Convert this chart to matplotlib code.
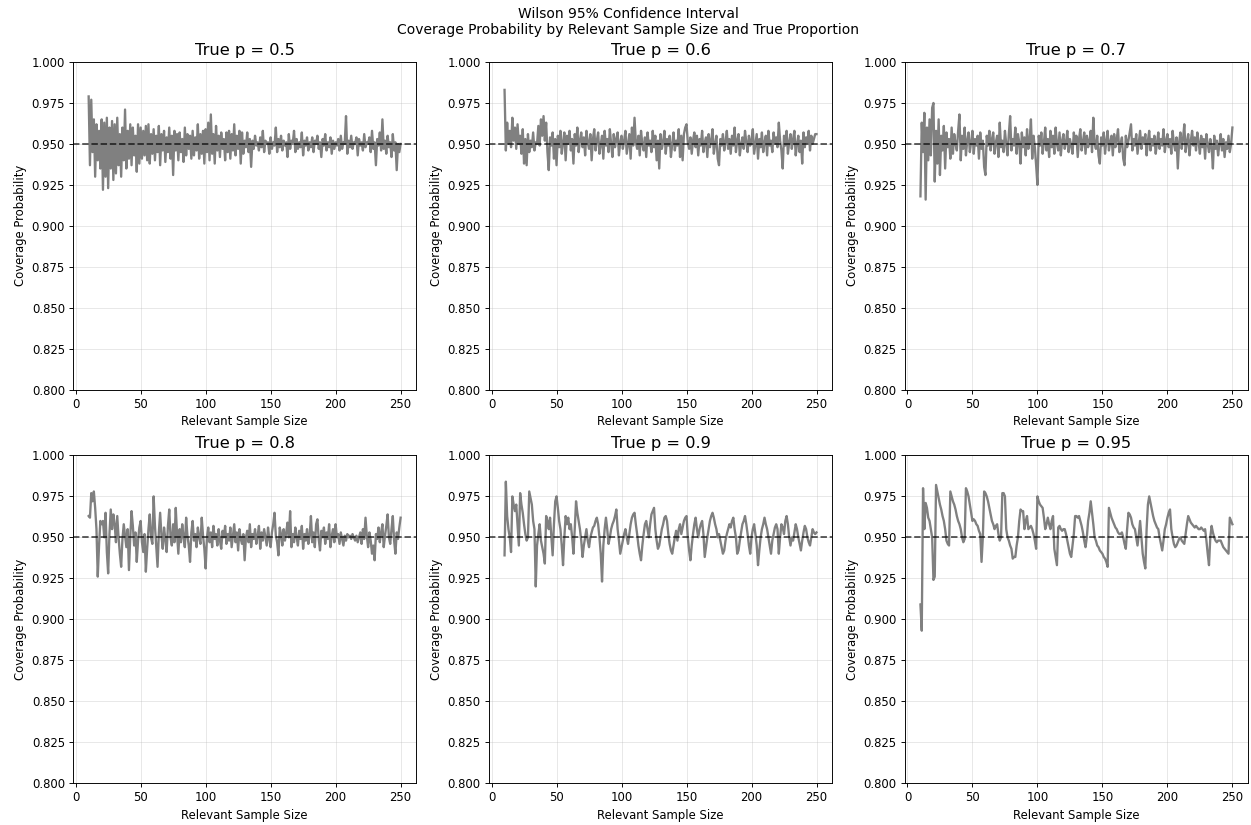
'''
Wilson 95% confidence interval coverage by sample size
'''

from matplotlib import pyplot as plt
import numpy as np

# sample sizes 10..250
sample_sizes = list(range(10, 251))
true_props = [0.5, 0.6, 0.7, 0.8, 0.9, 0.95]
nominal = 0.95

# coverage values, in thousandths (n = 10, 11, ...)
cov_p50 = [
    979, 937, 977, 945, 965, 930, 962, 940, 958, 935,
    965, 922, 963, 930, 966, 923, 960, 935, 964, 928,
    962, 932, 966, 937, 956, 930, 960, 940, 971, 935,
    958, 941, 962, 937, 960, 943, 955, 933, 962, 938,
    960, 941, 958, 943, 961, 940, 962, 938, 956, 944,
    959, 940, 955, 945, 961, 937, 956, 946, 958, 939,
    954, 945, 960, 941, 955, 931, 958, 946, 956, 940,
    957, 945, 953, 939, 960, 943, 956, 947, 955, 941,
    958, 943, 954, 946, 962, 941, 956, 944, 958, 938,
    959, 945, 963, 940, 968, 944, 956, 938, 961, 946,
    955, 942, 957, 947, 953, 940, 957, 945, 958, 941,
    956, 946, 962, 943, 955, 947, 958, 938, 957, 944,
    952, 948, 957, 945, 953, 936, 952, 947, 955, 949,
    951, 946, 954, 948, 958, 945, 952, 950, 951, 944,
    954, 947, 951, 949, 960, 945, 953, 948, 955, 946,
    952, 949, 951, 942, 956, 947, 952, 950, 958, 945,
    953, 947, 951, 948, 957, 943, 952, 949, 954, 946,
    951, 948, 954, 945, 952, 950, 955, 947, 951, 942,
    953, 949, 956, 946, 951, 948, 954, 944, 952, 947,
    951, 949, 953, 946, 955, 947, 951, 950, 967, 944,
    952, 948, 955, 947, 951, 950, 954, 943, 953, 949,
    951, 946, 956, 948, 951, 950, 954, 945, 958, 947,
    951, 937, 953, 949, 957, 946, 965, 947, 952, 944,
    955, 948, 951, 942, 956, 946, 951, 934, 950, 945,
    950]

cov_p60 = [
    983, 946, 963, 950, 958, 948, 966, 952, 960, 947,
    962, 950, 955, 944, 959, 938, 953, 937, 956, 945,
    952, 948, 957, 946, 951, 950, 961, 949, 965, 955,
    967, 952, 963, 945, 934, 954, 949, 957, 941, 953,
    937, 955, 948, 958, 944, 951, 957, 940, 955, 950,
    958, 946, 953, 938, 956, 949, 960, 945, 952, 957,
    948, 954, 943, 958, 951, 947, 956, 940, 953, 959,
    946, 952, 957, 944, 950, 955, 941, 958, 949, 953,
    945, 959, 950, 942, 956, 948, 953, 957, 943, 951,
    955, 947, 952, 958, 944, 950, 956, 941, 960, 949,
    966, 951, 947, 955, 943, 958, 950, 946, 954, 942,
    957, 949, 952, 945, 958, 948, 955, 940, 952, 935,
    956, 947, 951, 958, 944, 953, 949, 955, 942, 950,
    957, 946, 952, 949, 959, 942, 955, 940, 956, 960,
    962, 951, 947, 954, 944, 952, 957, 948, 955, 943,
    953, 949, 958, 945, 951, 954, 942, 956, 948, 952,
    959, 944, 950, 955, 941, 937, 953, 949, 956, 946,
    951, 958, 947, 953, 944, 955, 949, 960, 945, 952,
    956, 943, 950, 954, 947, 958, 951, 945, 955, 949,
    952, 959, 944, 950, 956, 941, 953, 948, 957, 945,
    951, 955, 943, 958, 949, 952, 945, 957, 950, 954,
    948, 963, 952, 946, 935, 955, 949, 958, 944, 951,
    956, 947, 953, 958, 943, 950, 955, 945, 952, 938,
    957, 948, 954, 951, 958, 946, 955, 950, 953, 956,
    956]

cov_p70 = [
    918, 963, 945, 969, 916, 960, 940, 965, 943, 972,
    975, 927, 958, 938, 965, 931, 955, 946, 961, 935,
    957, 948, 953, 941, 960, 944, 956, 950, 946, 958,
    968, 940, 955, 947, 960, 943, 952, 957, 945, 951,
    958, 944, 953, 949, 955, 941, 957, 947, 952, 936,
    931, 955, 949, 958, 946, 953, 957, 944, 951, 955,
    942, 963, 948, 952, 945, 958, 950, 943, 956, 967,
    946, 953, 949, 960, 944, 956, 951, 938, 957, 948,
    954, 943, 959, 947, 952, 965, 941, 955, 948, 937,
    925, 955, 949, 957, 944, 951, 960, 946, 953, 942,
    958, 948, 955, 944, 960, 950, 946, 957, 943, 952,
    956, 947, 951, 958, 945, 953, 949, 944, 957, 950,
    955, 942, 953, 959, 946, 951, 957, 944, 955, 948,
    952, 958, 945, 966, 950, 947, 955, 943, 938, 954,
    949, 957, 944, 952, 958, 946, 951, 955, 943, 956,
    948, 953, 959, 945, 950, 954, 941, 937, 955, 948,
    952, 957, 962, 946, 953, 949, 956, 944, 951, 958,
    947, 954, 950, 956, 943, 952, 958, 946, 953, 949,
    955, 944, 951, 957, 947, 953, 949, 959, 945, 952,
    956, 948, 953, 944, 958, 950, 946, 954, 935, 951,
    957, 947, 953, 962, 945, 951, 956, 943, 952, 958,
    949, 954, 946, 957, 951, 944, 955, 948, 953, 941,
    956, 950, 945, 953, 948, 935, 955, 947, 952, 943,
    950, 956, 946, 953, 942, 951, 947, 955, 945, 950,
    960]

cov_p80 = [
    963, 962, 977, 972, 978, 968, 955, 926, 945, 960,
    958, 960, 950, 965, 941, 928, 952, 967, 955, 964,
    958, 947, 963, 950, 940, 932, 949, 958, 951, 944,
    955, 930, 950, 966, 957, 945, 953, 935, 948, 956,
    960, 947, 941, 952, 929, 943, 955, 964, 950, 946,
    975, 957, 944, 932, 953, 965, 951, 943, 956, 949,
    941, 957, 967, 950, 945, 958, 947, 968, 952, 940,
    955, 947, 958, 950, 944, 962, 951, 945, 935, 953,
    960, 948, 952, 944, 956, 950, 946, 962, 951, 943,
    931, 950, 956, 947, 953, 944, 957, 949, 952, 945,
    955, 948, 943, 954, 950, 957, 946, 952, 948, 956,
    944, 951, 958, 947, 953, 942, 955, 949, 946, 952,
    936, 950, 954, 947, 958, 944, 952, 949, 955, 946,
    951, 957, 943, 953, 948, 955, 950, 945, 956, 949,
    944, 953, 958, 965, 951, 947, 939, 956, 952, 945,
    955, 948, 953, 959, 950, 966, 944, 952, 947, 956,
    950, 945, 954, 949, 957, 943, 952, 948, 955, 946,
    951, 963, 947, 953, 944, 958, 961, 949, 942, 954,
    950, 956, 946, 953, 949, 958, 944, 951, 955, 947,
    958, 950, 952, 946, 953, 949, 945, 951, 948, 952,
    950, 951, 949, 952, 950, 948, 951, 947, 950, 953,
    946, 955, 949, 962, 951, 944, 953, 948, 940, 945,
    936, 952, 949, 956, 947, 953, 958, 944, 951, 957,
    964, 950, 946, 955, 963, 948, 940, 953, 949, 956,
    962]

cov_p90 = [
    939, 984, 963, 955, 950, 941, 975, 970, 966, 970,
    958, 945, 977, 970, 965, 958, 952, 948, 950, 978,
    974, 970, 960, 955, 920, 945, 952, 958, 948, 944,
    940, 934, 963, 960, 955, 962, 950, 939, 958, 972,
    975, 968, 960, 955, 945, 933, 950, 963, 958, 962,
    955, 958, 950, 940, 955, 972, 965, 960, 955, 948,
    938, 945, 950, 955, 948, 944, 950, 953, 956, 957,
    960, 962, 958, 950, 940, 923, 945, 955, 962, 955,
    946, 950, 955, 958, 960, 963, 967, 955, 948, 940,
    944, 948, 952, 955, 950, 946, 952, 958, 962, 964,
    965, 958, 952, 945, 940, 936, 945, 952, 958, 960,
    955, 950, 958, 964, 966, 968, 955, 948, 943, 945,
    950, 955, 958, 962, 963, 960, 952, 946, 942, 940,
    945, 950, 954, 948, 955, 958, 952, 956, 960, 962,
    963, 950, 942, 936, 945, 952, 958, 962, 955, 950,
    955, 958, 960, 952, 938, 944, 950, 955, 960, 963,
    965, 962, 958, 955, 950, 952, 948, 944, 940, 942,
    948, 952, 955, 958, 956, 960, 962, 955, 950, 940,
    942, 948, 953, 958, 960, 963, 958, 952, 945, 940,
    950, 955, 958, 952, 945, 933, 942, 950, 955, 958,
    962, 958, 955, 950, 945, 940, 948, 952, 956, 958,
    955, 940, 950, 958, 956, 952, 960, 963, 958, 950,
    945, 950, 948, 953, 958, 955, 950, 946, 942, 948,
    953, 957, 955, 950, 947, 945, 950, 955, 953, 952,
    953]

cov_p95 = [
    909, 893, 980, 955, 971, 968, 962, 960, 955, 950,
    924, 926, 982, 978, 974, 970, 967, 963, 960, 955,
    948, 946, 945, 978, 975, 972, 970, 967, 963, 960,
    958, 955, 950, 947, 949, 980, 978, 975, 970, 965,
    960, 961, 960, 958, 957, 954, 952, 935, 950, 978,
    977, 975, 972, 968, 964, 960, 958, 955, 957, 958,
    952, 948, 950, 977, 977, 975, 955, 950, 948, 945,
    943, 937, 938, 938, 945, 950, 960, 967, 966, 966,
    955, 960, 963, 955, 956, 957, 955, 952, 948, 943,
    975, 972, 970, 969, 968, 962, 955, 958, 962, 958,
    955, 960, 963, 943, 938, 933, 956, 957, 955, 954,
    955, 955, 952, 948, 944, 940, 938, 945, 952, 963,
    963, 962, 963, 960, 957, 953, 948, 944, 950, 960,
    965, 972, 965, 958, 950, 948, 945, 944, 942, 941,
    940, 938, 937, 935, 932, 968, 965, 962, 960, 958,
    956, 955, 953, 952, 952, 953, 950, 946, 943, 955,
    965, 964, 962, 958, 956, 955, 950, 945, 952, 960,
    950, 940, 935, 931, 955, 970, 975, 971, 967, 963,
    960, 958, 956, 955, 950, 946, 942, 948, 955, 958,
    962, 965, 967, 955, 950, 946, 944, 945, 947, 949,
    950, 948, 947, 946, 952, 958, 963, 961, 959, 958,
    957, 956, 957, 956, 955, 955, 956, 955, 954, 955,
    948, 940, 933, 950, 957, 953, 950, 948, 947, 948,
    948, 948, 946, 944, 943, 942, 941, 940, 962, 960,
    958]

coverages = [cov_p50, cov_p60, cov_p70, cov_p80, cov_p90, cov_p95]


def draw_panel(ax, p, cov):
    y = np.array(cov) / 1000.0
    ax.plot(sample_sizes, y, color='gray', linewidth=2)
    ax.axhline(nominal, color='black', linestyle='--', alpha=0.7)
    ax.set_ylim(0.8, 1.0)
    ax.set_xlabel('Relevant Sample Size')
    ax.set_ylabel('Coverage Probability')
    ax.set_title('True p = {}'.format(p), fontsize=14)
    ax.grid(True, alpha=0.3)


if __name__ == '__main__':
    fig, axes = plt.subplots(2, 3, figsize=(1251 / 83.4, 825 / 83.4))
    for ax, p, cov in zip(axes.flat, true_props, coverages):
        draw_panel(ax, p, cov)
    fig.suptitle('Wilson 95% Confidence Interval\n'
                 'Coverage Probability by Relevant Sample Size and True Proportion',
                 x=0.502, y=0.992)
    plt.subplots_adjust(left=0.0584, right=0.9976, bottom=0.0509, top=0.9248,
                        wspace=0.212, hspace=0.201)
    plt.savefig('out.png', dpi=83.4)
